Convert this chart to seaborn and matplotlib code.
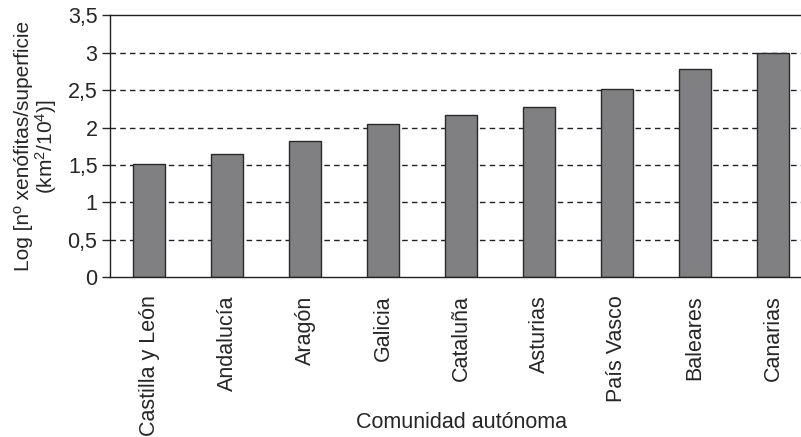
import numpy as np
import pandas as pd
import matplotlib
matplotlib.use("Agg")
import matplotlib.pyplot as plt
import seaborn as sns

comunidades = ["Castilla y León", "Andalucía", "Aragón", "Galicia", "Cataluña",
               "Asturias", "País Vasco", "Baleares", "Canarias"]
log_xenofitas = [1.52, 1.65, 1.82, 2.05, 2.17, 2.27, 2.52, 2.78, 3.00]
yticks = [0, 0.5, 1, 1.5, 2, 2.5, 3, 3.5]

df = pd.DataFrame({"comunidad": comunidades, "valor": log_xenofitas})

sns.set_style("white")
plt.rcParams["font.family"] = ["Liberation Sans", "DejaVu Sans"]
plt.rcParams["mathtext.fontset"] = "custom"
plt.rcParams["mathtext.rm"] = "Liberation Sans"
plt.rcParams["mathtext.it"] = "Liberation Sans"

fs = 15.5

fig = plt.figure(figsize=(8.01, 4.37), dpi=100)
ax = fig.add_axes([110 / 801, 1 - 277.3 / 437, 702 / 801, 262 / 437])

sns.barplot(data=df, x="comunidad", y="valor", color="#808083", width=0.4,
            edgecolor="#2a2a2a", linewidth=1.0, saturation=1, ax=ax)

ax.set_ylim(0, 3.5)
ax.set_xlim(-0.5, len(comunidades) - 0.5)
ax.set_yticks(yticks)
ax.set_yticklabels([f"{t:g}".replace(".", ",") for t in yticks], fontsize=fs)
for t in yticks[1:-1]:
    ax.axhline(t, color="#222222", linestyle=(0, (4, 3)), linewidth=1.0, zorder=0)

ax.set_xticks(np.arange(len(comunidades)))
ax.set_xticklabels(comunidades, rotation=90, fontsize=fs, va="top")
ax.tick_params(axis="x", length=0, pad=13)
ax.set_xticks(np.arange(len(comunidades) + 1) - 0.5, minor=True)
ax.tick_params(axis="x", which="minor", length=5, width=1, direction="out")
ax.tick_params(axis="y", length=6, width=1, direction="out", pad=3, left=True)

for s in ["left", "top", "bottom", "right"]:
    ax.spines[s].set_visible(True)
    ax.spines[s].set_color("#222222")
    ax.spines[s].set_linewidth(1.0)

# the axis title sits beside the long rotated labels, not under them
ax.set_xlabel("Comunidad autónoma", fontsize=fs)
ax.xaxis.set_label_coords(0.5, (277.3 - 423) / 262)
ax.xaxis.label.set_va("center")
ax.set_ylabel("Log [nº xenófitas/superficie\n(km$^2$/10$^4$)]", fontsize=15,
              labelpad=6, linespacing=1.0)

fig.savefig("out.png", dpi=100)
